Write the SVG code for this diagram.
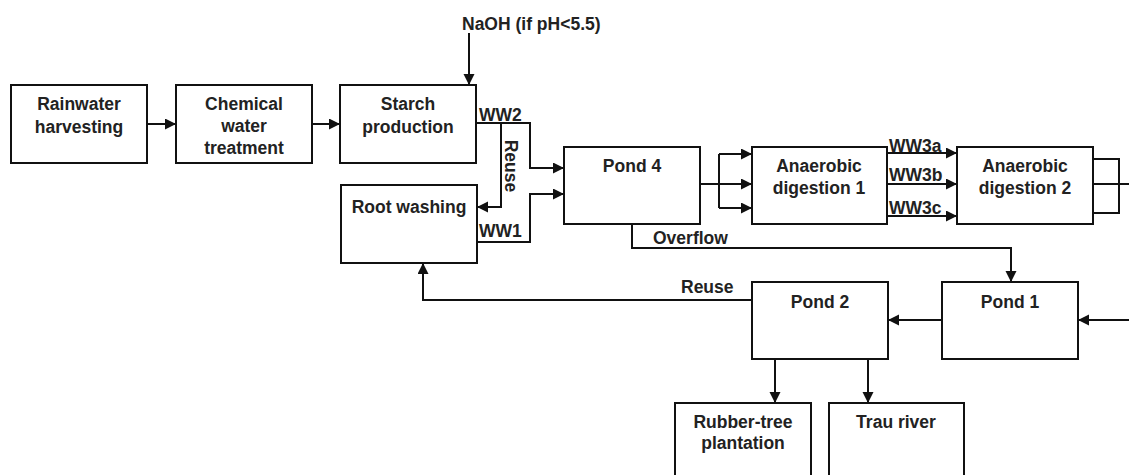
<svg xmlns="http://www.w3.org/2000/svg" width="1129" height="475" viewBox="0 0 1129 475">
<style>
.box{fill:#fff;stroke:#111;stroke-width:2}
.ln{fill:none;stroke:#111;stroke-width:2}
text{font-family:"Liberation Sans",Arial,sans-serif;font-size:17.5px;font-weight:bold;fill:#222}
.c{text-anchor:middle}
</style>
<defs>
<marker id="ah" markerUnits="userSpaceOnUse" markerWidth="12" markerHeight="12" refX="11" refY="5.5" orient="auto">
<path d="M0,0 L11,5.5 L0,11 z" fill="#111"/>
</marker>
</defs>
<rect width="1129" height="475" fill="#fff"/>
<g id="connectors">
<path class="ln" d="M147,124 H176" marker-end="url(#ah)"/>
<path class="ln" d="M312,124 H340" marker-end="url(#ah)"/>
<path class="ln" d="M469,33 V85" marker-end="url(#ah)"/>
<path class="ln" d="M476,123 H530 V168 H564" marker-end="url(#ah)"/>
<path class="ln" d="M501,123 V207 H477" marker-end="url(#ah)"/>
<path class="ln" d="M477,242 H530 V194 H564" marker-end="url(#ah)"/>
<path class="ln" d="M700,184 H719 M719,154 V208"/>
<path class="ln" d="M719,154 H752" marker-end="url(#ah)"/>
<path class="ln" d="M719,184 H752" marker-end="url(#ah)"/>
<path class="ln" d="M719,208 H752" marker-end="url(#ah)"/>
<path class="ln" d="M887,153 H957" marker-end="url(#ah)"/>
<path class="ln" d="M887,184 H957" marker-end="url(#ah)"/>
<path class="ln" d="M887,216 H957" marker-end="url(#ah)"/>
<path class="ln" d="M1093,159 H1119 V213 H1093 M1093,184 H1129"/>
<path class="ln" d="M632,224 V248 H1011 V282" marker-end="url(#ah)"/>
<path class="ln" d="M1129,320 H1078" marker-end="url(#ah)"/>
<path class="ln" d="M942,320 H888" marker-end="url(#ah)"/>
<path class="ln" d="M752,300 H423 V263" marker-end="url(#ah)"/>
<path class="ln" d="M775,359 V403" marker-end="url(#ah)"/>
<path class="ln" d="M868,359 V403" marker-end="url(#ah)"/>
<text x="462" y="30">NaOH (if pH&lt;5.5)</text>
<text x="479" y="121">WW2</text>
<text x="479" y="237">WW1</text>
<text class="c" transform="translate(505,166) rotate(90)">Reuse</text>
<text x="653" y="244">Overflow</text>
<text x="889" y="152">WW3a</text>
<text x="889" y="181">WW3b</text>
<text x="889" y="214">WW3c</text>
<text x="681" y="293">Reuse</text>
</g>
<g id="rainwater"><rect class="box" x="11" y="85" width="136" height="78"/><text class="c" x="79" y="110">Rainwater</text><text class="c" x="79" y="133">harvesting</text></g>
<g id="chemical"><rect class="box" x="176" y="85" width="136" height="78"/><text class="c" x="244" y="110">Chemical</text><text class="c" x="244" y="132">water</text><text class="c" x="244" y="154">treatment</text></g>
<g id="starch"><rect class="box" x="340" y="85" width="136" height="78"/><text class="c" x="408" y="110">Starch</text><text class="c" x="408" y="133">production</text></g>
<g id="rootwashing"><rect class="box" x="341" y="185" width="136" height="78"/><text class="c" x="409" y="213">Root washing</text></g>
<g id="pond4"><rect class="box" x="564" y="147" width="136" height="77"/><text class="c" x="632" y="172">Pond 4</text></g>
<g id="anaerobic1"><rect class="box" x="752" y="147" width="135" height="77"/><text class="c" x="819" y="172">Anaerobic</text><text class="c" x="819" y="194">digestion 1</text></g>
<g id="anaerobic2"><rect class="box" x="957" y="147" width="136" height="77"/><text class="c" x="1025" y="172">Anaerobic</text><text class="c" x="1025" y="194">digestion 2</text></g>
<g id="pond2"><rect class="box" x="752" y="282" width="136" height="77"/><text class="c" x="820" y="308">Pond 2</text></g>
<g id="pond1"><rect class="box" x="942" y="282" width="136" height="77"/><text class="c" x="1010" y="308">Pond 1</text></g>
<g id="rubber"><rect class="box" x="675" y="403" width="136" height="80"/><text class="c" x="743" y="428">Rubber-tree</text><text class="c" x="743" y="449">plantation</text></g>
<g id="trau"><rect class="box" x="829" y="403" width="135" height="80"/><text class="c" x="896" y="428">Trau river</text></g>
</svg>
